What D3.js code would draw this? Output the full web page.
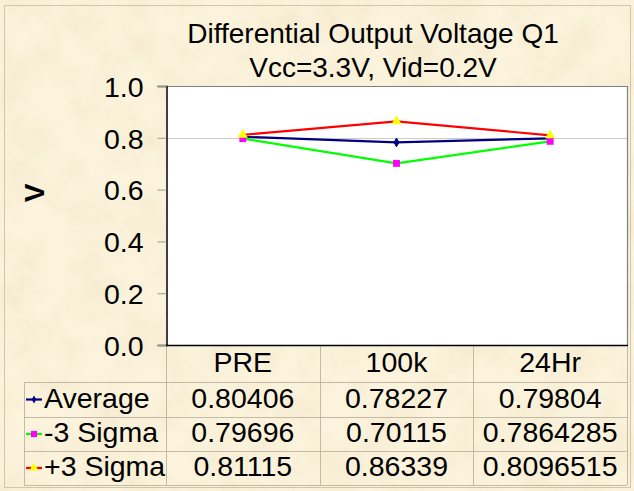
<!DOCTYPE html>
<html>
<head>
<meta charset="utf-8">
<script src="https://cdn.jsdelivr.net/npm/d3@7"></script>
<style>
  html, body { margin: 0; padding: 0; background: #f8eed4; }
  svg { display: block; font-family: "Liberation Sans", Arial, sans-serif; }
</style>
</head>
<body>
<svg id="chart" width="634" height="491"></svg>
<script>
// Measurements: differential output voltage per stress stage
const categories = ["PRE", "100k", "24Hr"];
const average    = [0.80406, 0.78227, 0.79804];
const minus3     = [0.79696, 0.70115, 0.7864285];
const plus3      = [0.81115, 0.86339, 0.8096515];
const yTicks     = [0.0, 0.2, 0.4, 0.6, 0.8, 1.0];
const gridValues = [0.8];
const seriesNames = ["Average", "-3 Sigma", "+3 Sigma"];

const titleLines = ["Differential Output Voltage Q1", "Vcc=3.3V, Vid=0.2V"];
const yLabel = "V";

const series = [
  { name: seriesNames[0], values: average, line: "#000080", marker: "diamond", fill: "#000080" },
  { name: seriesNames[1], values: minus3,  line: "#00ff00", marker: "square",  fill: "#ff00ff" },
  { name: seriesNames[2], values: plus3,   line: "#ff0000", marker: "triangle", fill: "#ffff00" }
];

const W = 634, H = 491;
const plot = { left: 166, right: 627, top: 86, bottom: 345 };
const tableLeft = 24;
const rowEdges = [345, 382, 417, 451, 485];
const fs = 28.5;

const svg = d3.select("#chart");

// parchment background
const defs = svg.append("defs");
const f = defs.append("filter").attr("id", "paper")
  .attr("x", 0).attr("y", 0).attr("width", "100%").attr("height", "100%");
f.append("feTurbulence").attr("type", "fractalNoise")
  .attr("baseFrequency", "0.025").attr("numOctaves", 4).attr("seed", 7).attr("result", "n");
f.append("feColorMatrix").attr("in", "n").attr("type", "matrix")
  .attr("values", "0 0 0 0 0.86  0 0 0 0 0.76  0 0 0 0 0.55  1.6 0 0 0 -0.62");

svg.append("rect").attr("width", W).attr("height", H).attr("fill", "#fbf3dc");
svg.append("rect").attr("width", W).attr("height", H).attr("filter", "url(#paper)").attr("opacity", 0.6);
svg.append("rect").attr("x", 4.5).attr("y", 5.5).attr("width", 626).attr("height", 482)
  .attr("fill", "none").attr("stroke", "#cfc6b0").attr("stroke-width", 1);

// title
const title = svg.append("text").attr("text-anchor", "middle").attr("font-size", 28).attr("fill", "#000");
titleLines.forEach((t, i) => {
  title.append("tspan").attr("x", 373).attr("y", 43 + i * 34).text(t);
});

// scales
const x = d3.scaleBand().domain(categories).range([plot.left, plot.right]);
const y = d3.scaleLinear().domain([0, 1]).range([plot.bottom, plot.top]);

// plot area
svg.append("rect").attr("x", plot.left).attr("y", plot.top)
  .attr("width", plot.right - plot.left).attr("height", plot.bottom - plot.top)
  .attr("fill", "#fff");

svg.append("g").selectAll("line").data(gridValues).join("line")
  .attr("x1", plot.left).attr("x2", plot.right)
  .attr("y1", d => Math.round(y(d)) + 0.5).attr("y2", d => Math.round(y(d)) + 0.5)
  .attr("stroke", "#cccccc").attr("stroke-width", 1);

// top and right frame
svg.append("path")
  .attr("d", `M${plot.left},${plot.top + 0.5}H${plot.right + 0.5}V${plot.bottom}`)
  .attr("fill", "none").attr("stroke", "#808080").attr("stroke-width", 1.2);

// y axis
const yAxis = svg.append("g").attr("transform", `translate(${plot.left + 0.5},0)`)
  .call(d3.axisLeft(y).tickValues(yTicks).tickFormat(d3.format(".1f")).tickSize(9).tickPadding(14));
yAxis.select(".domain").attr("stroke", "#000").attr("stroke-width", 1.5);
yAxis.selectAll(".tick line").attr("stroke", "#9a9a9a");
yAxis.selectAll(".tick text").attr("font-size", fs).attr("fill", "#000")
  .attr("font-family", "Liberation Sans, Arial, sans-serif").attr("dy", "0.36em");

svg.append("text").attr("transform", "translate(44,193) rotate(-90)")
  .attr("text-anchor", "middle").attr("font-size", 28).attr("font-weight", "bold").text(yLabel);

// data table grid
const tg = svg.append("g").attr("stroke", "#c2b9a6").attr("stroke-width", 1).attr("fill", "none");
const colEdges = [plot.left].concat(categories.map(c => x(c) + x.bandwidth()));
colEdges.forEach(cx => {
  tg.append("line").attr("x1", Math.round(cx) + 0.5).attr("x2", Math.round(cx) + 0.5)
    .attr("y1", rowEdges[0]).attr("y2", rowEdges[rowEdges.length - 1]);
});
tg.append("line").attr("x1", tableLeft + 0.5).attr("x2", tableLeft + 0.5)
  .attr("y1", rowEdges[1]).attr("y2", rowEdges[rowEdges.length - 1]);
rowEdges.slice(1).forEach(ry => {
  tg.append("line").attr("x1", tableLeft).attr("x2", plot.right)
    .attr("y1", ry + 0.5).attr("y2", ry + 0.5);
});

// x axis line
svg.append("line").attr("x1", plot.left).attr("x2", plot.right + 1)
  .attr("y1", plot.bottom + 0.5).attr("y2", plot.bottom + 0.5)
  .attr("stroke", "#000").attr("stroke-width", 1.5);

// category labels
svg.append("g").selectAll("text").data(categories).join("text")
  .attr("x", d => x(d) + x.bandwidth() / 2)
  .attr("y", (rowEdges[0] + rowEdges[1]) / 2 + 8)
  .attr("text-anchor", "middle").attr("font-size", fs).text(d => d);

// marker shapes
function markerPath(kind, size) {
  const t = kind === "square" ? d3.symbolSquare : kind === "triangle" ? d3.symbolTriangle : d3.symbolDiamond;
  return d3.symbol().type(t).size(size)();
}
const markerSize = { diamond: 22, square: 48, triangle: 44 };

// series lines and markers
const line = d3.line().x((d, i) => x(categories[i]) + x.bandwidth() / 2).y(d => y(d));
series.forEach(s => {
  svg.append("path").attr("d", line(s.values)).attr("fill", "none")
    .attr("stroke", s.line).attr("stroke-width", 2.2);
});
series.forEach(s => {
  svg.append("g").selectAll("path").data(s.values).join("path")
    .attr("transform", (d, i) => `translate(${x(categories[i]) + x.bandwidth() / 2},${y(d)})`)
    .attr("d", markerPath(s.marker, markerSize[s.marker]))
    .attr("fill", s.fill).attr("stroke", s.marker === "diamond" ? s.fill : "none");
});

// table rows: legend key, name, values
series.forEach((s, r) => {
  const top = rowEdges[r + 1], bot = rowEdges[r + 2];
  const cy = (top + bot) / 2;
  const g = svg.append("g");
  g.append("line").attr("x1", 26).attr("x2", 42).attr("y1", cy).attr("y2", cy)
    .attr("stroke", s.line).attr("stroke-width", 2.2);
  g.append("path").attr("transform", `translate(34,${cy})`)
    .attr("d", markerPath(s.marker, markerSize[s.marker] * 0.8)).attr("fill", s.fill);
  g.append("text").attr("x", 44).attr("y", cy + 8).attr("font-size", fs).text(s.name);
  g.selectAll("text.v").data(s.values).join("text").attr("class", "v")
    .attr("x", (d, i) => x(categories[i]) + x.bandwidth() / 2)
    .attr("y", cy + 8).attr("text-anchor", "middle").attr("font-size", fs)
    .text(d => String(d));
});
</script>
</body>
</html>
